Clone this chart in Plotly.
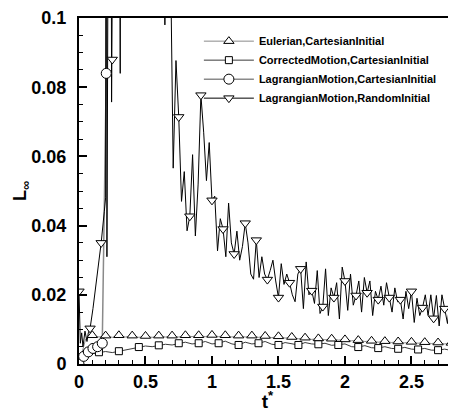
import plotly.graph_objects as go

# ---------------- data ----------------
EUL_T = [0.0, 0.05, 0.1, 0.15, 0.2, 0.25, 0.3, 0.35, 0.4, 0.45, 0.5, 0.55, 0.6, 0.65, 0.7, 0.75,
         0.8, 0.85, 0.9, 0.95, 1.0, 1.05, 1.1, 1.15, 1.2, 1.25, 1.3, 1.35, 1.4, 1.45, 1.5, 1.55,
         1.6, 1.65, 1.7, 1.75, 1.8, 1.85, 1.9, 1.95, 2.0, 2.05, 2.1, 2.15, 2.2, 2.25, 2.3, 2.35,
         2.4, 2.45, 2.5, 2.55, 2.6, 2.65, 2.7, 2.75, 2.8, 2.85]
EUL_Y = [0.0, 0.0072, 0.0083, 0.0078, 0.0082, 0.0077, 0.0083, 0.0078, 0.0082, 0.0077, 0.0081, 0.0077,
         0.0082, 0.0078, 0.0082, 0.0078, 0.0083, 0.0079, 0.0083, 0.0079, 0.0084, 0.0079, 0.0083, 0.0078,
         0.0082, 0.0078, 0.0082, 0.0077, 0.0081, 0.0076, 0.0080, 0.0075, 0.0078, 0.0073, 0.0076, 0.0071,
         0.0074, 0.0070, 0.0073, 0.0069, 0.0071, 0.0067, 0.0069, 0.0065, 0.0067, 0.0063, 0.0066, 0.0062,
         0.0065, 0.0061, 0.0064, 0.0060, 0.0063, 0.0059, 0.0062, 0.0058, 0.0061, 0.0058]

COR_T = EUL_T
COR_Y = [0.0, 0.0020, 0.0030, 0.0034, 0.0036, 0.0033, 0.0037, 0.0042, 0.0045, 0.0049, 0.0052, 0.0050,
         0.0054, 0.0057, 0.0055, 0.0060, 0.0063, 0.0058, 0.0060, 0.0065, 0.0058, 0.0060, 0.0066, 0.0058,
         0.0055, 0.0063, 0.0058, 0.0060, 0.0065, 0.0057, 0.0055, 0.0062, 0.0058, 0.0055, 0.0062, 0.0058,
         0.0057, 0.0060, 0.0054, 0.0055, 0.0058, 0.0050, 0.0049, 0.0053, 0.0047, 0.0046, 0.0050, 0.0045,
         0.0044, 0.0048, 0.0043, 0.0042, 0.0045, 0.0040, 0.0040, 0.0043, 0.0039, 0.0038]

LAGC_T = [0.0, 0.035, 0.07, 0.105, 0.14, 0.175, 0.205, 0.24]
LAGC_Y = [0.0, 0.0022, 0.0035, 0.0045, 0.0050, 0.0060, 0.084, 0.4]

RAND_T_EARLY = [0.0, 0.01, 0.02, 0.03, 0.045, 0.06, 0.07, 0.083333, 0.105, 0.125, 0.145, 0.166667,
                0.19, 0.2, 0.205, 0.21, 0.215, 0.235, 0.245, 0.25, 0.26, 0.28, 0.3, 0.31, 0.32]
RAND_Y_EARLY = [0.021, 0.006, 0.009, 0.005, 0.0095, 0.0065, 0.009, 0.0103, 0.016, 0.022, 0.028, 0.035,
                0.044, 0.048, 0.3, 0.031, 0.3, 0.3, 0.0757, 0.088, 0.3, 0.3, 0.2, 0.084, 0.3]
RAND_STEP = 1 / 48
RAND_FIRST = 16
RAND_Y_LATE = [
    0.30, 0.25, 0.30, 0.20, 0.30, 0.25, 0.30, 0.20, 0.30, 0.25, 0.30, 0.20, 0.25, 0.30, 0.20,
    0.098, 0.20, 0.12, 0.0566, 0.0877, 0.0714, 0.047, 0.0556, 0.0385, 0.0427, 0.0605, 0.037,
    0.052, 0.0777, 0.067, 0.053, 0.064, 0.0473, 0.0485, 0.0327, 0.042, 0.039, 0.031, 0.0465,
    0.035, 0.0318, 0.0384, 0.030, 0.034, 0.0407, 0.035, 0.026, 0.0245, 0.0358, 0.025, 0.031,
    0.026, 0.0244, 0.027, 0.030, 0.024, 0.0192, 0.029, 0.023, 0.026, 0.0235, 0.020, 0.018,
    0.026, 0.0275, 0.016, 0.0295, 0.020, 0.0212, 0.0175, 0.027, 0.0146, 0.0166, 0.0275, 0.014,
    0.022, 0.0192, 0.0235, 0.013, 0.028, 0.024, 0.0155, 0.026, 0.017, 0.0198, 0.024, 0.015,
    0.025, 0.0206, 0.024, 0.014, 0.021, 0.0186, 0.0225, 0.017, 0.0235, 0.0192, 0.015, 0.022,
    0.018, 0.0186, 0.013, 0.021, 0.016, 0.021, 0.012, 0.019, 0.014, 0.0163, 0.020, 0.014,
    0.020, 0.0132, 0.0198, 0.011, 0.020, 0.016, 0.0117, 0.019, 0.015, 0.019, 0.014]

NAMES = ["Eulerian,CartesianInitial", "CorrectedMotion,CartesianInitial",
         "LagrangianMotion,CartesianInitial", "LagrangianMotion,RandomInitial"]

X_TICKS = [0, 0.5, 1, 1.5, 2, 2.5]
Y_TICKS = [0, 0.02, 0.04, 0.06, 0.08, 0.1]

# ---------------- build ----------------
RAND_T = RAND_T_EARLY + [(RAND_FIRST + k) * RAND_STEP for k in range(len(RAND_Y_LATE))]
RAND_Y = RAND_Y_EARLY + RAND_Y_LATE

def pick(ts, ys, keep):
    xs, vs = [], []
    for i, (t, y) in enumerate(zip(ts, ys)):
        if keep(i, t, y):
            xs.append(t)
            vs.append(y)
    return xs, vs

eul_m = pick(EUL_T, EUL_Y, lambda i, t, y: i > 0 and i % 2 == 0)
cor_m = pick(COR_T, COR_Y, lambda i, t, y: i > 0 and i % 3 == 0)
lag_m = pick(LAGC_T, LAGC_Y, lambda i, t, y: y <= 0.1)
rnd_m = pick(RAND_T, RAND_Y, lambda i, t, y: abs(t * 12 - round(t * 12)) < 1e-3 and y <= 0.1)

series = [
    (EUL_T, EUL_Y, eul_m, "triangle-up", 9, "#8a8a8a", 1.0),
    (COR_T, COR_Y, cor_m, "square", 7, "#3a3a3a", 1.0),
    (LAGC_T, LAGC_Y, lag_m, "circle", 10, "#8a8a8a", 1.5),
    (RAND_T, RAND_Y, rnd_m, "triangle-down", 9, "#000000", 1.0),
]

fig = go.Figure()
for (ts, ys, mk, sym, ms, lc, lw), name in zip(series, NAMES):
    fig.add_trace(go.Scatter(x=ts, y=ys, mode="lines", showlegend=False,
                             line=dict(color=lc, width=lw), hoverinfo="skip"))
for (ts, ys, mk, sym, ms, lc, lw), name in zip(series, NAMES):
    fig.add_trace(go.Scatter(x=mk[0], y=mk[1], mode="markers", showlegend=False,
                             marker=dict(symbol=sym, size=ms, color="white",
                                         line=dict(color="black", width=1))))
for (ts, ys, mk, sym, ms, lc, lw), name in zip(series, NAMES):
    fig.add_trace(go.Scatter(x=[None], y=[None], mode="lines+markers", name=name,
                             line=dict(color=lc, width=lw),
                             marker=dict(symbol=sym, size=ms, color="white",
                                         line=dict(color="black", width=1))))

FONT = "Liberation Sans, Arial, sans-serif"
# the page body adds an 8px margin, so the figure is sized to end at the window edge
fig.update_layout(
    width=448, height=404,
    margin=dict(l=71, r=0, t=7, b=48),
    paper_bgcolor="white", plot_bgcolor="white",
    font=dict(family=FONT, size=18, color="black", weight="bold"),
    showlegend=True,
    legend=dict(x=0.318, y=0.975, xanchor="left", yanchor="top",
                bgcolor="rgba(0,0,0,0)", borderwidth=0,
                font=dict(family=FONT, size=11, color="black", weight="bold"),
                itemwidth=50, tracegroupgap=0),
    xaxis=dict(range=[0, 2.835], tickvals=X_TICKS, ticks="inside", ticklen=8, tickwidth=1.5,
               tickcolor="black", showline=True, linewidth=2, linecolor="black", mirror=True,
               showgrid=False, zeroline=False, ticklabeloverflow="allow",
               minor=dict(dtick=0.1, ticks="inside", ticklen=4, tickwidth=1, tickcolor="black"),
               title=dict(text="t<sup>*</sup>", standoff=2, font=dict(size=19, weight="bold")),
               tickfont=dict(size=18, weight="bold")),
    yaxis=dict(range=[0, 0.1], tickvals=Y_TICKS, ticks="inside", ticklen=8, tickwidth=1.5,
               tickcolor="black", showline=True, linewidth=2, linecolor="black",
               showgrid=False, zeroline=False, ticklabelstandoff=7, ticklabeloverflow="allow",
               minor=dict(dtick=0.005, ticks="inside", ticklen=4, tickwidth=1, tickcolor="black"),
               title=dict(text="L<sub>∞</sub>", standoff=0, font=dict(size=18, weight="bold")),
               tickfont=dict(size=18, weight="bold")),
)

fig.write_html("out.html")
